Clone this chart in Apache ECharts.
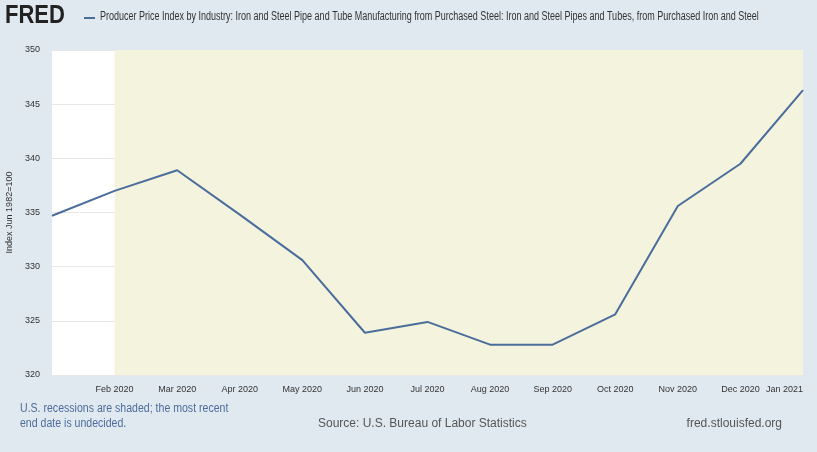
<!DOCTYPE html>
<html>
<head>
<meta charset="utf-8">
<script src="https://cdn.jsdelivr.net/npm/echarts@6/dist/echarts.min.js"></script>
<style>
body { margin: 0; background: #e1e9f0; }
#chart { width: 817px; height: 452px; }
</style>
</head>
<body>
<div id="chart"></div>
<script>
var months = ["Jan 2020", "Feb 2020", "Mar 2020", "Apr 2020", "May 2020", "Jun 2020", "Jul 2020",
	"Aug 2020", "Sep 2020", "Oct 2020", "Nov 2020", "Dec 2020", "Jan 2021"];
var values = [334.7, 337.0, 338.9, 334.8, 330.6, 323.9, 324.9, 322.8, 322.8, 325.6, 335.6, 339.5, 346.3];
var recessionStart = "Feb 2020";
var recessionEnd = "Jan 2021";

var chart = echarts.init(document.getElementById('chart'));
var font = "'Liberation Sans', Arial, sans-serif";

chart.setOption({
	backgroundColor: '#e1e9f0',
	animation: false,
	graphic: [
		{ type: 'text', x: 5, y: 4, scaleX: 0.88, style: { text: 'FRED', font: 'bold 25px "Liberation Sans"', fill: '#222' } },
		{ type: 'rect', shape: { x: 84, y: 17, width: 11, height: 2 }, style: { fill: '#4a6d9c' } },
		{ type: 'text', x: 100, y: 11, scaleX: 0.75, style: { text: 'Producer Price Index by Industry: Iron and Steel Pipe and Tube Manufacturing from Purchased Steel: Iron and Steel Pipes and Tubes, from Purchased Iron and Steel', font: '12px ' + font, fill: '#333' } },
		{ type: 'text', x: 20, y: 401, scaleX: 0.88, style: { text: 'U.S. recessions are shaded; the most recent\nend date is undecided.', font: '12px "Liberation Sans"', fill: '#4a6d9c', lineHeight: 15 } },
		{ type: 'text', left: 318, top: 418, style: { text: 'Source: U.S. Bureau of Labor Statistics', font: '12px "Liberation Sans"', fill: '#555' } },
		{ type: 'text', right: 35, top: 418, style: { text: 'fred.stlouisfed.org', font: '12px "Liberation Sans"', fill: '#555' } }
	],
	grid: { left: 52, right: 14, top: 50, bottom: 77, backgroundColor: '#fff', show: true, borderWidth: 0,
		containLabel: false, outerBoundsMode: 'none' },
	xAxis: {
		type: 'category', boundaryGap: false, data: months,
		axisLine: { show: false }, axisTick: { show: false },
		axisLabel: { fontSize: 9, color: '#333', fontFamily: font, margin: 10, alignMaxLabel: 'right',
			formatter: function(v, i) { return i === 0 ? '' : v; } }
	},
	yAxis: {
		type: 'value', min: 320, max: 350, interval: 5,
		name: 'Index Jun 1982=100', nameLocation: 'middle', nameGap: 33,
		nameTextStyle: { fontSize: 9, color: '#333', fontFamily: font },
		axisLabel: { fontSize: 9, color: '#333', fontFamily: font, margin: 12 },
		splitLine: { lineStyle: { color: '#e6e6e6' } }
	},
	series: [{
		type: 'line', data: values, symbol: 'none',
		lineStyle: { color: '#4a6d9c', width: 2 },
		markArea: { silent: true, itemStyle: { color: '#f4f3dd' },
			data: [[{ xAxis: recessionStart }, { xAxis: recessionEnd }]] }
	}]
});
</script>
</body>
</html>
